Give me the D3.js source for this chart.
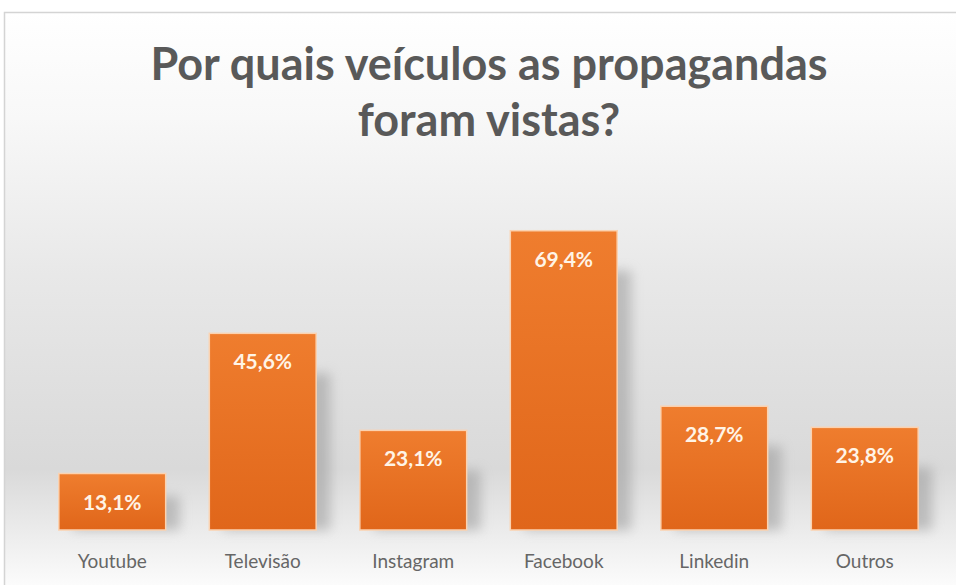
<!DOCTYPE html>
<html><head><meta charset="utf-8">
<script src="https://cdn.jsdelivr.net/npm/d3@7"></script>
<style>html,body{margin:0;padding:0;background:#fff;}svg{display:block;}</style>
</head><body>
<script>
const categories = ["Youtube","Televisão","Instagram","Facebook","Linkedin","Outros"];
const values = [13.1, 45.6, 23.1, 69.4, 28.7, 23.8];
const valueLabels = ["13,1%","45,6%","23,1%","69,4%","28,7%","23,8%"];
const titleLines = ["Por quais veículos as propagandas","foram vistas?"];

const W = 956, H = 585;
const svg = d3.select("body").append("svg").attr("width", W).attr("height", H);
const defs = svg.append("defs");

const bg = defs.append("linearGradient").attr("id","bg").attr("x1",0).attr("x2",0).attr("y1",0).attr("y2",1);
bg.append("stop").attr("offset","0").attr("stop-color","#ffffff");
bg.append("stop").attr("offset","0.18").attr("stop-color","#f8f8f8");
bg.append("stop").attr("offset","0.45").attr("stop-color","#e8e8e8");
bg.append("stop").attr("offset","0.78").attr("stop-color","#d9d9d9");
bg.append("stop").attr("offset","0.93").attr("stop-color","#f3f3f3");
bg.append("stop").attr("offset","1").attr("stop-color","#ffffff");

const barG = defs.append("linearGradient").attr("id","barg").attr("x1",0).attr("x2",0).attr("y1",0).attr("y2",1);
barG.append("stop").attr("offset","0").attr("stop-color","#ef7d2e");
barG.append("stop").attr("offset","1").attr("stop-color","#e0661a");

const blur = defs.append("filter").attr("id","sh").attr("x","-50%").attr("y","-50%").attr("width","200%").attr("height","200%");
blur.append("feGaussianBlur").attr("stdDeviation", 6);

svg.append("rect").attr("x",4.5).attr("y",12.5).attr("width",W).attr("height",H)
  .attr("fill","url(#bg)").attr("stroke","#d4d4d4").attr("stroke-width",1.5);

svg.append("g").selectAll("text").data(titleLines).join("text")
  .attr("x", 489).attr("y",(d,i)=>80+i*56)
  .attr("text-anchor","middle")
  .attr("font-family","Lato, 'Open Sans', sans-serif")
  .attr("font-weight","bold").attr("font-size",45).attr("fill","#595959")
  .text(d=>d);

const x = d3.scaleBand().domain(categories).range([37,940]).paddingInner(0.29).paddingOuter(0.145);
const y = d3.scaleLinear().domain([0,80]).range([530,185]);

const data = categories.map((c,i)=>({c, v:values[i], l:valueLabels[i]}));

// shadows
svg.append("g").selectAll("rect").data(data).join("rect")
  .attr("x",d=>x(d.c)+14).attr("y",d=>y(d.v)+Math.min(40,(530-y(d.v))*0.4))
  .attr("width",x.bandwidth()).attr("height",d=>530-y(d.v)-Math.min(40,(530-y(d.v))*0.4))
  .attr("fill","#9a9a9a").attr("opacity",0.55).attr("filter","url(#sh)");

svg.append("g").selectAll("rect").data(data).join("rect")
  .attr("x",d=>x(d.c)).attr("y",d=>y(d.v))
  .attr("width",x.bandwidth()).attr("height",d=>530-y(d.v))
  .attr("fill","url(#barg)").attr("stroke","#fbd2b0").attr("stroke-width",1.5);

svg.append("g").selectAll("text").data(data).join("text")
  .attr("x",d=>x(d.c)+x.bandwidth()/2).attr("y",d=>y(d.v)+36)
  .attr("text-anchor","middle")
  .attr("font-family","Lato, 'Open Sans', sans-serif").attr("font-weight","bold")
  .attr("font-size",21).attr("fill","#fff4e6")
  .text(d=>d.l);

svg.append("g").selectAll("text").data(data).join("text")
  .attr("x",d=>x(d.c)+x.bandwidth()/2).attr("y",568)
  .attr("text-anchor","middle")
  .attr("font-family","Lato, 'Open Sans', sans-serif")
  .attr("font-size",19).attr("fill","#666666")
  .text(d=>d.c);
</script>
</body></html>
